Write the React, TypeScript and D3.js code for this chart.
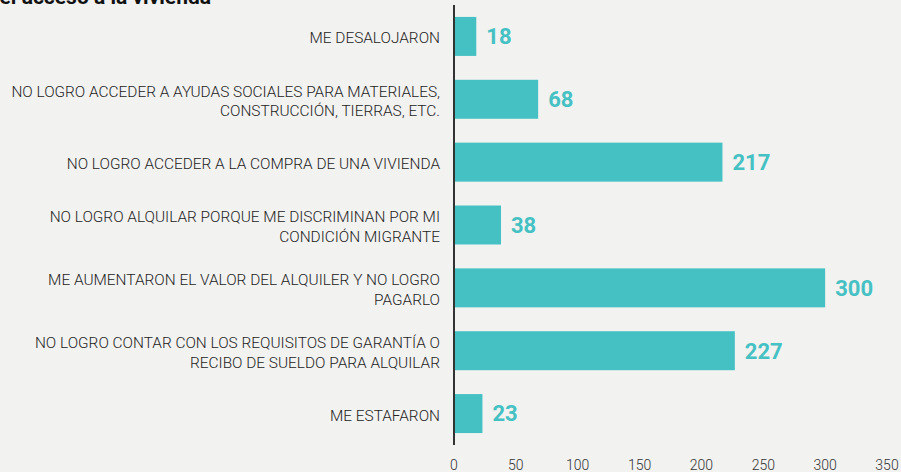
import React from "react";
import * as d3 from "d3";

const categories: string[][] = [
  ["ME DESALOJARON"],
  ["NO LOGRO ACCEDER A AYUDAS SOCIALES PARA MATERIALES,", "CONSTRUCCIÓN, TIERRAS, ETC."],
  ["NO LOGRO ACCEDER A LA COMPRA DE UNA VIVIENDA"],
  ["NO LOGRO ALQUILAR PORQUE ME DISCRIMINAN POR MI", "CONDICIÓN MIGRANTE"],
  ["ME AUMENTARON EL VALOR DEL ALQUILER Y NO LOGRO", "PAGARLO"],
  ["NO LOGRO CONTAR CON LOS REQUISITOS DE GARANTÍA O", "RECIBO DE SUELDO PARA ALQUILAR"],
  ["ME ESTAFARON"],
];
const values: number[] = [18, 68, 217, 38, 300, 227, 23];
const ticks: number[] = [0, 50, 100, 150, 200, 250, 300, 350];
const title = "el acceso a la vivienda";

const W = 901;
const H = 472;
const TEAL = "#45c1c3";

export default function App() {
  const x = d3.scaleLinear().domain([0, 350]).range([454, 887]);
  const idx = categories.map((_, i) => String(i));
  const y = d3.scaleBand<string>().domain(idx).range([5, 445]).paddingInner(0.38).paddingOuter(0.19);
  return (
    <svg width={W} height={H} style={{ position: "fixed", left: 0, top: 0, background: "#f2f2f1" }}>
      <rect x={0} y={0} width={W} height={H} fill="#f2f2f1" />
      <text x={211} y={4} textAnchor="end" fontFamily="Roboto" fontWeight={700} fontSize={21} fill="#111">{title}</text>
      {values.map((v, i) => {
        const yy = y(String(i))!;
        const bw = y.bandwidth();
        const cy = yy + bw / 2;
        const lines = categories[i];
        return (
          <g key={i}>
            <rect x={x(0)} y={yy} width={x(v) - x(0)} height={bw} fill={TEAL} />
            <text x={x(v) + 10} y={cy} dy="0.36em" fontFamily="Roboto" fontWeight={700} fontSize={22} fill={TEAL}>{v}</text>
            {lines.map((l, j) => (
              <text key={j} x={440} y={cy + (j - (lines.length - 1) / 2) * 19.5 + 1.5} dy="0.36em" textAnchor="end"
                fontFamily="Roboto" fontWeight={300} fontSize={15.4} fill="#222">{l}</text>
            ))}
          </g>
        );
      })}
      <line x1={454} x2={454} y1={5} y2={445} stroke="#333" strokeWidth={2} />
      {ticks.map((t) => (
        <text key={t} x={x(t)} y={465} dy="0.36em" textAnchor="middle" fontFamily="Roboto" fontWeight={300} fontSize={14} fill="#333">{t}</text>
      ))}
    </svg>
  );
}
